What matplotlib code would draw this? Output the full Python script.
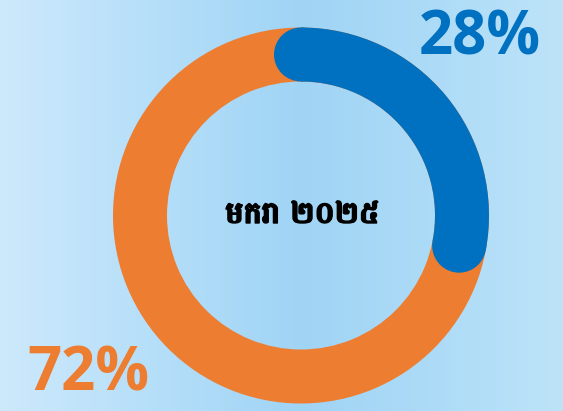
import numpy as np
import matplotlib
matplotlib.use("Agg")
import matplotlib.pyplot as plt
import matplotlib.patheffects as pe
from matplotlib import font_manager
from matplotlib.ft2font import FT2Font
from matplotlib.patches import Wedge, Circle

# Data
labels = ["Blue share", "Orange share"]
values = [28, 72]
value_labels = ["28%", "72%"]
center_label = "មករា ២០២៥"
colors = ["#0070C0", "#ED7D31"]

# find a font with Khmer coverage (prefer bold)
khmer_font = None
khmer_bold = False
for f in font_manager.fontManager.ttflist:
    try:
        ft = FT2Font(f.fname)
        cm = ft.get_charmap()
        if 0x1798 in cm and 0x17E2 in cm:
            isb = ("Bold" in f.fname) or (f.weight in ("bold", 700))
            if khmer_font is None or (isb and not khmer_bold):
                khmer_font = f.name
                khmer_bold = isb
    except Exception:
        pass
fam_center = [khmer_font, "DejaVu Sans"] if khmer_font else ["DejaVu Sans"]

W, H = 563, 411
fig = plt.figure(figsize=(W / 100, H / 100), dpi=100)

# background horizontal gradient (smooth)
bg = fig.add_axes([0, 0, 1, 1])
bg.set_axis_off()
xs = np.arange(W)
knots_x = [0, 150, 300, 430, 562]
knots_c = np.array([[205, 233, 252], [182, 223, 249], [160, 212, 245],
                    [172, 219, 247], [190, 227, 249]]) / 255.0
row = np.stack([np.interp(xs, knots_x, knots_c[:, k]) for k in range(3)], axis=1)
img = np.repeat(row[None, :, :], H, axis=0)
bg.imshow(img, extent=[0, W, H, 0], aspect="auto")
bg.set_xlim(0, W)
bg.set_ylim(H, 0)

# donut axes in pixel coordinates
ax = fig.add_axes([0, 0, 1, 1])
ax.set_xlim(0, W)
ax.set_ylim(0, H)
ax.set_axis_off()
ax.patch.set_alpha(0)

cx, cy = 301, H - 215.5
r_out, width = 188, 54
r_mid = r_out - width / 2

# orange full ring
ax.add_patch(Wedge((cx, cy), r_out, 0, 360, width=width, color=colors[1], lw=0))
# blue arc clockwise from top
frac = values[0] / sum(values)
theta_end = 90
theta_start = 90 - 360 * frac
ax.add_patch(Wedge((cx, cy), r_out, theta_start, theta_end, width=width, color=colors[0], lw=0))
for th in (theta_start, theta_end):
    px = cx + r_mid * np.cos(np.radians(th))
    py = cy + r_mid * np.sin(np.radians(th))
    ax.add_patch(Circle((px, py), width / 2, color=colors[0], lw=0))

# labels
ax.text(480, H - 39, value_labels[0], color=colors[0], fontsize=43, fontweight="bold",
        family=["Open Sans", "DejaVu Sans"], ha="center", va="center")
ax.text(88, H - 375, value_labels[1], color=colors[1], fontsize=43, fontweight="bold",
        family=["Open Sans", "DejaVu Sans"], ha="center", va="center")
ax.text(302, H - 214, center_label, color="black", fontsize=22, fontweight="bold",
        family=fam_center, ha="center", va="center",
        path_effects=[pe.withStroke(linewidth=1.0, foreground="black")])

fig.savefig("out.png", dpi=100)
